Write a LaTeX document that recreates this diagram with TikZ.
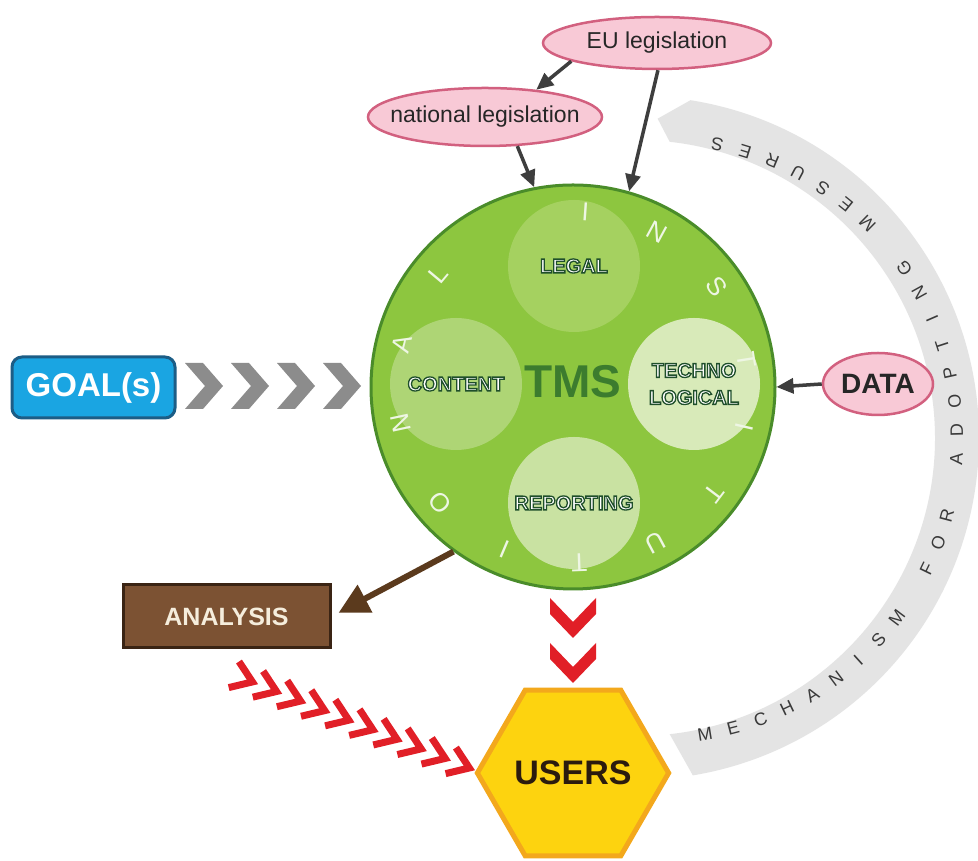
\documentclass[tikz,border=0pt]{standalone}
\usepackage{fontspec}
\setmainfont{Liberation Sans}
\usetikzlibrary{arrows.meta,shapes.geometric,calc}
\definecolor{tmsgreen}{HTML}{8DC63F}
\definecolor{tmsborder}{HTML}{4A8C2A}
\definecolor{legalc}{HTML}{A5D160}
\definecolor{contentc}{HTML}{AED575}
\definecolor{technoc}{HTML}{D8EAB9}
\definecolor{reportc}{HTML}{C9E2A2}
\definecolor{tmstext}{HTML}{3C7C2E}
\definecolor{instc}{HTML}{EEF6E4}
\definecolor{pinkf}{HTML}{F8C9D6}
\definecolor{pinkd}{HTML}{D2607F}
\definecolor{arrowg}{HTML}{3E3E3E}
\definecolor{goalf}{HTML}{1AA5E2}
\definecolor{goald}{HTML}{1C5D86}
\definecolor{chevg}{HTML}{8C8C8C}
\definecolor{brownf}{HTML}{7C5233}
\definecolor{brownd}{HTML}{3A2414}
\definecolor{brownarr}{HTML}{5B3A1D}
\definecolor{analt}{HTML}{F5EDDC}
\definecolor{redc}{HTML}{E11F27}
\definecolor{yelf}{HTML}{FDD30F}
\definecolor{yeld}{HTML}{F3A81C}
\definecolor{userst}{HTML}{2B1B0E}
\definecolor{bandc}{HTML}{E4E4E4}
\definecolor{bandt}{HTML}{3A3A3A}
\newcommand\olt[1]{\special{pdf:literal direct 2 Tr 1.3 w 0.12 0.31 0.17 RG}#1\special{pdf:literal direct 0 Tr}}
\tikzset{
  pinkell/.style={ellipse, draw=pinkd, line width=2.5pt, fill=pinkf, inner sep=0pt, text=black!85},
  garrow/.style={draw=arrowg, line width=3.5pt, -{Triangle[length=17pt,width=15pt]}},
  innerc/.style={circle, minimum size=132pt, inner sep=0pt, text=white,
    font=\fontsize{20}{27}\selectfont\bfseries, align=center},
  instl/.style={text=instc, font=\fontsize{26}{28}\selectfont},
  bandl/.style={text=bandt, font=\fontsize{18}{20}\selectfont},
  redchev/.style={draw=redc, line width=7pt, line join=miter},
}
\begin{document}
\begin{tikzpicture}[x=1pt,y=1pt]
\useasboundingbox (0,0) rectangle (978,861);
\fill[white] (0,0) rectangle (978,861);

% band "mechanism for adopting mesures"
\coordinate (bc) at (637,423);
\coordinate (bt) at (657,423);
\fill[bandc] ([shift={(81:342)}]bc) arc[start angle=81,end angle=-80.6,radius=342]
  -- ([shift={(-83.7:298)}]bc) arc[start angle=-83.7,end angle=83.7,radius=298]
  -- ([shift={(86.3:320)}]bc) -- cycle;
\foreach \ch/\i in {M/0,E/1,C/2,H/3,A/4,N/5,I/6,S/7,M/8,F/10,O/11,R/12,A/14,D/15,O/16,P/17,T/18,I/19,N/20,G/21,M/23,E/24,S/25,U/26,R/27,E/28,S/29}{
  \pgfmathsetmacro\ang{-80.8+5.49*\i}
  \node[bandl, rotate=\ang+90] (band\i) at ([shift={(\ang:300)}]bt) {\ch};
}

% TMS circle
\node[circle, fill=tmsgreen, draw=tmsborder, line width=3pt, minimum size=404pt, inner sep=0pt] (tms) at (573,474) {};
\node[innerc, fill=legalc] (legal) at (574,595) {\olt{LEGAL}};
\node[innerc, fill=contentc] (content) at (456,477) {\olt{CONTENT}};
\node[innerc, fill=technoc] (techno) at (694,477) {\olt{TECHNO}\\\olt{LOGICAL}};
\node[innerc, fill=reportc] (reporting) at (574,358) {\olt{REPORTING}};
\node[font=\fontsize{46}{50}\selectfont\bfseries, text=tmstext] (tmslabel) at (573,479) {TMS};
\foreach \ch/\a [count=\k] in {I/86,N/61.5,S/35,T/9,I/-13,T/-37,U/-62,T/-88,I/-113,O/-139,N/-168,A/166,L/140}{
  \node[instl, rotate=\a-90] (inst\k) at ([shift={(\a:176)}]tms.center) {\ch};
}

% GOAL
\node[rounded corners=10pt, fill=goalf, draw=goald, line width=3pt, minimum width=163pt, minimum height=61pt,
  text=white, font=\fontsize{33}{36}\selectfont\bfseries] (goal) at (93.5,473.5) {GOAL(s)};
\foreach \x in {185,231,277,323}{
  \fill[chevg] (\x,498) -- (\x+18,498) -- (\x+38,475) -- (\x+18,452) -- (\x,452) -- (\x+20,475) -- cycle;
}

% DATA
\node[pinkell, minimum width=110pt, minimum height=62pt, font=\fontsize{28}{30}\selectfont\bfseries] (data) at (878,477) {\makebox[0pt]{DATA}};
\draw[garrow] (data.west) -- (tms.east);

% legislation
\node[pinkell, minimum width=228pt, minimum height=52pt, font=\fontsize{23}{26}\selectfont] (eu) at (657,818) {\makebox[0pt]{EU legislation}};
\node[pinkell, minimum width=234pt, minimum height=58pt, font=\fontsize{23}{26}\selectfont] (nat) at (485,744) {\makebox[0pt]{national legislation}};
\draw[garrow] (eu.192) -- (nat.28);
\draw[garrow] (eu.-88) -- (tms.74.2);
\draw[garrow] (nat.-42) -- (tms.101.2);

% ANALYSIS
\node[fill=brownf, draw=brownd, line width=3pt, minimum width=207pt, minimum height=63pt,
  text=analt, font=\fontsize{25}{28}\selectfont\bfseries] (analysis) at (226.5,244.5) {ANALYSIS};
\draw[draw=brownarr, line width=6pt, -{Triangle[length=30pt,width=30pt]}, shorten >=8pt] (tms.234) -- (analysis.east);

% USERS
\node[regular polygon, regular polygon sides=6, minimum size=182pt, inner sep=0pt, fill=yelf, draw=yeld, line width=5pt,
  text=userst, font=\fontsize{34}{36}\selectfont\bfseries] (users) at (573,88) {USERS};

% red chevrons down
\foreach \yt in {263,218}{
  \fill[redc] (550,\yt) -- (573,\yt-24) -- (596,\yt) -- (596,\yt-16) -- (573,\yt-40) -- (550,\yt-16) -- cycle;
}
% red diagonal chevrons
\foreach \k in {0,...,9}{
  \begin{scope}[shift={(245+24.1*\k,182-9.56*\k)}, rotate=-21.6]
    \draw[redchev] (-12,14) -- (8,0) -- (-12,-14);
  \end{scope}
}
\end{tikzpicture}
\end{document}
